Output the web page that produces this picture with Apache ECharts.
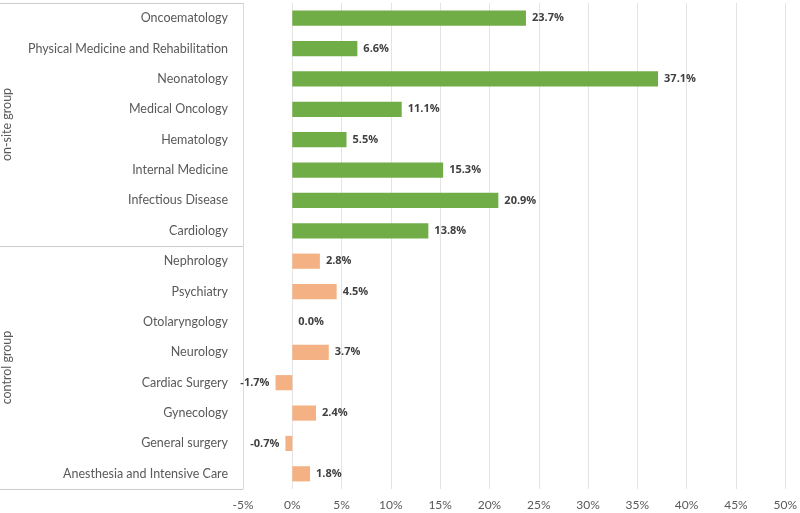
<!DOCTYPE html>
<html>
<head>
<meta charset="utf-8">
<script src="https://cdn.jsdelivr.net/npm/echarts@6/dist/echarts.min.js"></script>
<style>html,body{margin:0;padding:0;background:#fff}#c{width:800px;height:513px}</style>
</head>
<body>
<div id="c"></div>
<script>
var onsiteCategories = ["Oncoematology","Physical Medicine and Rehabilitation","Neonatology","Medical Oncology","Hematology","Internal Medicine","Infectious Disease","Cardiology"];
var onsiteValues = [23.7, 6.6, 37.1, 11.1, 5.5, 15.3, 20.9, 13.8];
var controlCategories = ["Nephrology","Psychiatry","Otolaryngology","Neurology","Cardiac Surgery","Gynecology","General surgery","Anesthesia and Intensive Care"];
var controlValues = [2.8, 4.5, 0.0, 3.7, -1.7, 2.4, -0.7, 1.8];
var groups = ["on-site group", "control group"];
var xTicks = {min: -5, max: 50, interval: 5};

var categories = onsiteCategories.concat(controlCategories);
function mk(vals, color) {
  return vals.map(function (v) {
    return {
      value: v,
      itemStyle: {color: color},
      label: {position: v < 0 ? 'left' : 'right'}
    };
  });
}
var data = mk(onsiteValues, '#70AD47').concat(mk(controlValues, '#F4B183'));

var gridLeft = 243, gridTop = 3;
var chart = echarts.init(document.getElementById('c'), null, {renderer: 'canvas'});
chart.setOption({
  animation: false,
  backgroundColor: '#ffffff',
  grid: {left: gridLeft, right: 13, top: gridTop, bottom: 24, containLabel: false},
  graphic: [{
    type: 'line', silent: true,
    shape: {x1: 0, y1: gridTop + 0.5, x2: gridLeft, y2: gridTop + 0.5},
    style: {stroke: '#d9d9d9', lineWidth: 1}
  }],
  xAxis: {
    type: 'value', min: xTicks.min, max: xTicks.max, interval: xTicks.interval,
    axisLine: {show: false}, axisTick: {show: false},
    axisLabel: {formatter: '{value}%', color: '#595959', fontSize: 12, fontFamily: 'Lato', margin: 10},
    splitLine: {lineStyle: {color: '#e4e4e4', width: 1}}
  },
  yAxis: [{
    type: 'category', data: categories, inverse: true,
    axisLine: {show: false}, axisTick: {show: false},
    axisLabel: {color: '#595959', fontSize: 12.5, fontFamily: 'Lato', margin: 15}
  }, {
    type: 'category', data: groups, inverse: true, position: 'left', offset: 0,
    axisLine: {show: true, onZero: false, lineStyle: {color: '#d9d9d9'}},
    axisTick: {show: true, length: 250, lineStyle: {color: '#cccccc'}},
    axisLabel: {rotate: 90, color: '#595959', fontSize: 12.5, fontFamily: 'Lato', margin: 230}
  }],
  series: [{
    type: 'bar', yAxisIndex: 0, data: data, barWidth: '50%',
    label: {
      show: true, distance: 6, color: '#404040', fontWeight: 'bold', fontSize: 11, fontFamily: 'Open Sans',
      formatter: function (p) { return p.value.toFixed(1) + '%'; }
    }
  }]
});
</script>
</body>
</html>
